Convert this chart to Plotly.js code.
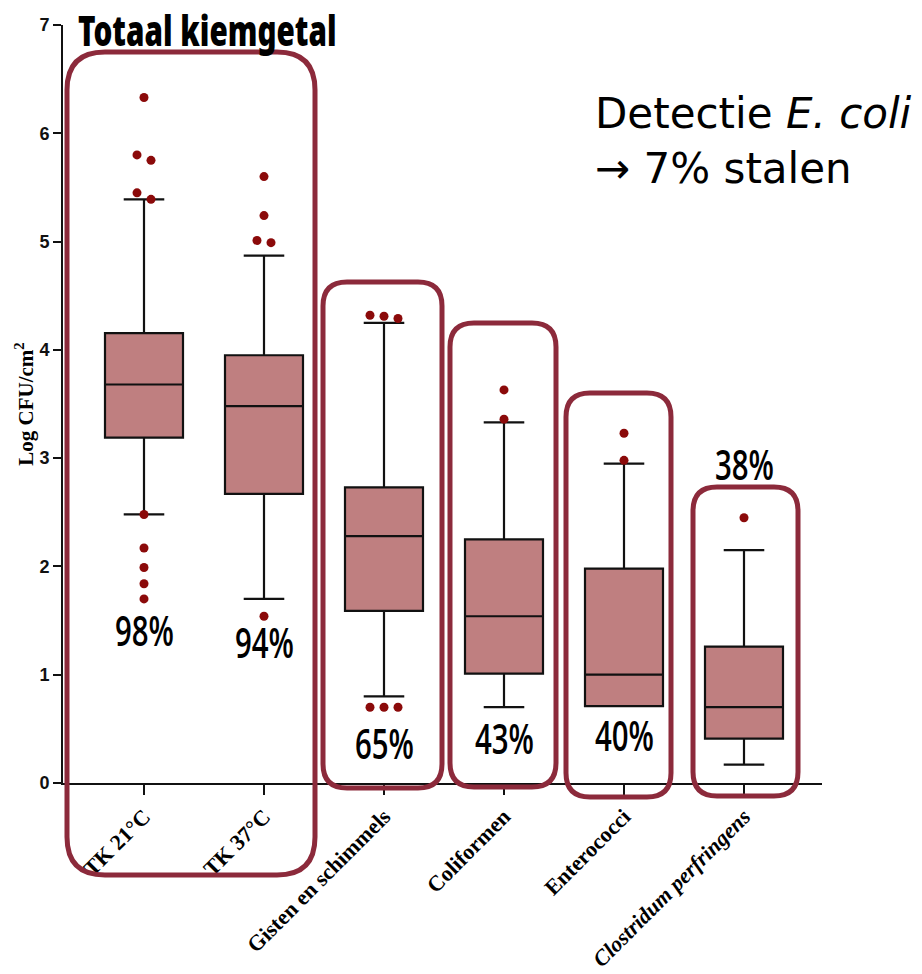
<!DOCTYPE html>
<html>
<head>
<meta charset="utf-8">
<script src="https://cdn.plot.ly/plotly-3.0.1.min.js"></script>
<style>
html,body{margin:0;padding:0;background:#fff;}
#chart{width:922px;height:974px;}
/* condensed display lettering, as in the reference */
text.annotation-text[style*="Noto Sans"] { transform-box: fill-box; transform-origin: 0% 50%; transform: scaleX(0.69); }
text.annotation-text[style*="Open Sans"] { transform-box: fill-box; transform-origin: 50% 50%; transform: scaleX(0.70); }
</style>
</head>
<body>
<div id="chart"></div>
<script>
// ---- data ----
const categories = ['TK 21°C', 'TK 37°C', 'Gisten en schimmels', 'Coliformen', 'Enterococci', 'Clostridum perfringens'];
const tickLabels = ['TK 21°C', 'TK 37°C', 'Gisten en schimmels', 'Coliformen', 'Enterococci', '<i>Clostridum perfringens</i>'];
const q1 = [3.19, 2.67, 1.59, 1.01, 0.71, 0.41];
const median = [3.68, 3.48, 2.28, 1.54, 1.00, 0.70];
const q3 = [4.155, 3.95, 2.73, 2.25, 1.98, 1.26];
const lowerWhisker = [2.48, 1.70, 0.80, 0.70, 0.71, 0.17];
const upperWhisker = [5.39, 4.87, 4.25, 3.33, 2.95, 2.15];
const outliersTK21 = [6.33, 5.80, 5.75, 5.45, 5.39, 2.48, 2.17, 1.99, 1.84, 1.70];
const outliersTK37 = [5.60, 5.24, 5.01, 4.99, 1.54];
const outliersGisten = [4.32, 4.31, 4.29, 0.70, 0.70, 0.70];
const outliersColi = [3.63, 3.36];
const outliersEntero = [3.23, 2.98];
const outliersClostr = [2.45];
const percentages = ['98%', '94%', '65%', '43%', '40%', '38%'];

// ---- layout geometry (pixels) ----
const W = 922, H = 974;
const M = {l: 63, r: 100, t: 25, b: 191};
const PW = W - M.l - M.r, PH = H - M.t - M.b;
const xRange = [-0.675, 5.65];
const yRange = [0, 7];
const px = v => (v - M.l) / PW;
const py = v => 1 - (v - M.t) / PH;
const yFromPix = p => yRange[0] + (M.t + PH - p) / PH * (yRange[1] - yRange[0]);

const idx = categories.map((c, i) => i);
const outlierSets = [outliersTK21, outliersTK37, outliersGisten, outliersColi, outliersEntero, outliersClostr];

// spread near-equal outliers side by side (dot-plot style)
const ox = [], oy = [];
const spacing = 14 / PW * (xRange[1] - xRange[0]);
outlierSets.forEach((set, i) => {
  const s = set.slice().sort((a, b) => b - a);
  let k = 0;
  while (k < s.length) {
    let j = k;
    while (j + 1 < s.length && s[j] - s[j + 1] < 0.1) j++;
    const n = j - k + 1;
    for (let m = 0; m < n; m++) {
      ox.push(i + (m - (n - 1) / 2) * spacing);
      oy.push(s[k + m]);
    }
    k = j + 1;
  }
});

const traces = [
  {
    type: 'box',
    x: idx,
    q1: q1, median: median, q3: q3,
    lowerfence: lowerWhisker, upperfence: upperWhisker,
    width: 0.65,
    whiskerwidth: 0.52,
    boxpoints: false,
    fillcolor: '#BF7F80',
    line: {color: '#111111', width: 2.2},
    hoverinfo: 'skip',
    showlegend: false
  },
  {
    type: 'scatter', mode: 'markers',
    x: ox, y: oy,
    marker: {color: '#8B0A0A', size: 9},
    hoverinfo: 'skip', showlegend: false, cliponaxis: false
  }
];

// rounded frames in pixel coords [x0, y0, x1, y1, r]
const frames = [
  [67, 52, 315, 875, 38],
  [323, 282, 442, 788, 24],
  [450, 323, 556, 787, 24],
  [566, 393, 671, 797, 24],
  [693, 487, 798, 796, 24]
];
function roundRect(f) {
  const [x0, y0, x1, y1, r] = f;
  const P = (x, y) => px(x).toFixed(5) + ',' + py(y).toFixed(5);
  return 'M' + P(x0 + r, y0) + ' L' + P(x1 - r, y0) + ' Q' + P(x1, y0) + ' ' + P(x1, y0 + r) +
    ' L' + P(x1, y1 - r) + ' Q' + P(x1, y1) + ' ' + P(x1 - r, y1) +
    ' L' + P(x0 + r, y1) + ' Q' + P(x0, y1) + ' ' + P(x0, y1 - r) +
    ' L' + P(x0, y0 + r) + ' Q' + P(x0, y0) + ' ' + P(x0 + r, y0) + ' Z';
}
const shapes = frames.map(f => ({
  type: 'path', xref: 'paper', yref: 'paper', path: roundRect(f),
  line: {color: '#8C2A3B', width: 5}, layer: 'above'
}));

const pctPix = [630, 642, 743, 738, 735, 464];
const pctFont = {family: 'Open Sans', size: 42, weight: 600, color: '#000'};
const annotations = percentages.map((t, i) => ({
  text: t, x: idx[i], y: yFromPix(pctPix[i]), xref: 'x', yref: 'y',
  showarrow: false, xanchor: 'center', yanchor: 'middle', font: pctFont
}));
annotations.push({
  text: 'Totaal kiemgetal', xref: 'paper', yref: 'paper', x: px(76), y: py(30),
  xanchor: 'left', yanchor: 'middle', align: 'left', showarrow: false,
  font: {family: 'Noto Sans', size: 43, weight: 900, color: '#000'}
});
annotations.push({
  text: 'Detectie <i>E. coli</i><br>→ 7% stalen', xref: 'paper', yref: 'paper', x: px(593), y: py(141),
  xanchor: 'left', yanchor: 'middle', align: 'left', showarrow: false,
  font: {family: 'DejaVu Sans, sans-serif', size: 42, color: '#000'}
});

const layout = {
  width: W, height: H,
  margin: M,
  paper_bgcolor: '#fff', plot_bgcolor: '#fff',
  showlegend: false,
  xaxis: {
    type: 'linear', range: xRange, tickvals: idx, ticktext: tickLabels,
    tickangle: -45, showgrid: false, zeroline: false,
    showline: true, linecolor: '#111', linewidth: 2,
    ticks: 'outside', ticklen: 10, tickwidth: 2, tickcolor: '#111',
    tickfont: {family: 'Liberation Serif, serif', size: 22, weight: 'bold', color: '#000'}
  },
  yaxis: {
    range: yRange, tickvals: [0, 1, 2, 3, 4, 5, 6, 7],
    showgrid: false, zeroline: false,
    showline: true, linecolor: '#111', linewidth: 2,
    ticks: 'outside', ticklen: 8, tickwidth: 2, tickcolor: '#111',
    tickfont: {family: 'Liberation Sans, Arial, sans-serif', size: 18, weight: 'bold', color: '#111'},
    title: {text: 'Log CFU/cm<sup>2</sup>', standoff: 0,
      font: {family: 'Liberation Serif, serif', size: 21, weight: 'bold', color: '#000'}}
  },
  shapes: shapes,
  annotations: annotations
};

Plotly.newPlot('chart', traces, layout, {displayModeBar: false, staticPlot: true});
</script>
</body>
</html>
